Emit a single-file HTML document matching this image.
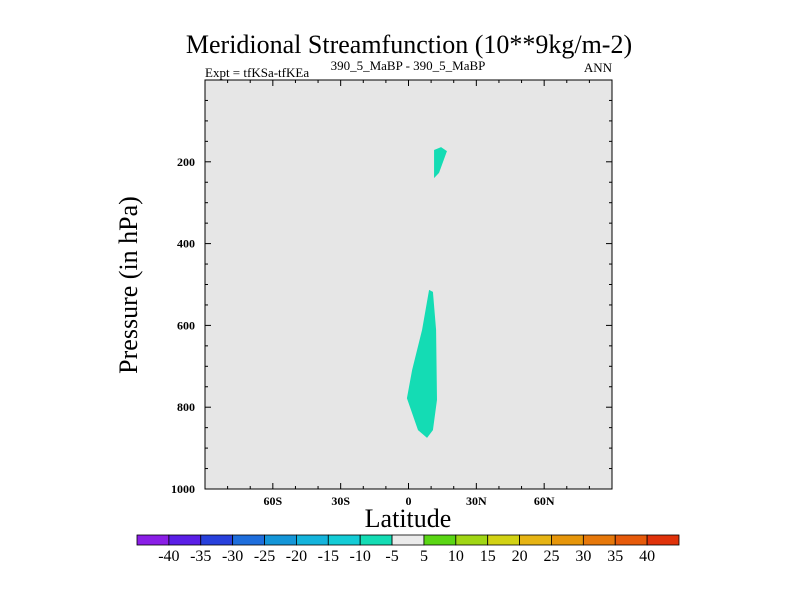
<!DOCTYPE html>
<html><head><meta charset="utf-8"><style>
body{margin:0;background:#fff}
svg text{font-family:"Liberation Serif",serif;fill:#000}
</style></head><body>
<svg width="800" height="600">
<text x="409" y="53" font-size="26" text-anchor="middle">Meridional Streamfunction (10**9kg/m-2)</text>
<text x="205" y="77" font-size="13">Expt = tfKSa-tfKEa</text>
<text x="408" y="70" font-size="13" text-anchor="middle">390_5_MaBP - 390_5_MaBP</text>
<text x="612" y="72" font-size="13" text-anchor="end">ANN</text>
<rect x="205" y="80" width="407" height="409" fill="#e6e6e6"/>
<g id="shapes"></g>
<rect x="205" y="80" width="407" height="409" fill="none" stroke="#000" stroke-width="1"/>
<g id="ticks"></g>
<text transform="translate(137,285) rotate(-90)" font-size="26" text-anchor="middle">Pressure (in hPa)</text>
<text x="408" y="527" font-size="26" text-anchor="middle">Latitude</text>
<g id="cbar"></g>
</svg>
<script>
const latTicks=[-60,-30,0,30,60];
const latLabels=["60S","30S","0","30N","60N"];
const presTicks=[200,400,600,800,1000];
const upperLat=[11.3,14.4,17.0,13.5,11.3];
const upperPres=[171,164,174,227,240];
const lowerLat=[9.1,10.8,12.2,12.6,10.8,8.2,4.2,-0.7,1.6,6.0];
const lowerPres=[513,518,611,782,856,875,856,778,709,611];
const cbarLabels=["-40","-35","-30","-25","-20","-15","-10","-5","5","10","15","20","25","30","35","40"];
const cbarColors=["#8a1ee6","#5a1ee6","#2840dc","#1e6edc","#1496d8","#14b4dc","#14ccd6","#14dcb4","#ebebeb","#5ad614","#a0d614","#d2d214","#e6b414","#e6960a","#e6780a","#e65a0a","#e0320a"];
const NS="http://www.w3.org/2000/svg";
const X=lat=>205+(lat+90)*407/180;
const Y=p=>80+p*409/1000;
function mk(t,a,parent){const e=document.createElementNS(NS,t);for(const k in a)e.setAttribute(k,a[k]);parent.appendChild(e);return e;}
const sh=document.getElementById('shapes');
let p1=mk('polygon',{points:upperLat.map((l,i)=>X(l)+','+Y(upperPres[i])).join(' '),fill:'#14dcb4'},sh);


let p2=mk('polygon',{points:lowerLat.map((l,i)=>X(l)+','+Y(lowerPres[i])).join(' '),fill:'#14dcb4'},sh);


const tk=document.getElementById('ticks');
for(let l=-80;l<=80;l+=10){const maj=l%30===0;const len=maj?6:3;
 mk('line',{x1:X(l),x2:X(l),y1:489,y2:489-len,stroke:'#000'},tk);
 mk('line',{x1:X(l),x2:X(l),y1:80,y2:80+len,stroke:'#000'},tk);}
latTicks.forEach((l,i)=>{const t=mk('text',{x:X(l),y:505,'font-size':12,'font-weight':'bold','text-anchor':'middle'},tk);t.textContent=latLabels[i];
 
 });
for(let p=50;p<1000;p+=50){const maj=p%200===0;const len=maj?6:3;
 mk('line',{x1:205,x2:205+len,y1:Y(p),y2:Y(p),stroke:'#000'},tk);
 mk('line',{x1:612,x2:612-len,y1:Y(p),y2:Y(p),stroke:'#000'},tk);}
presTicks.forEach(p=>{const t=mk('text',{x:195,y:Y(p)+4,'font-size':12,'font-weight':'bold','text-anchor':'end'},tk);t.textContent=p;
 
 });
const cb=document.getElementById('cbar');const w=542/cbarColors.length;
cbarColors.forEach((c,i)=>{const r=mk('rect',{x:137+i*w,y:535,width:w,height:10,fill:c,stroke:'#000','stroke-width':0.8},cb);
 
 });
cbarLabels.forEach((s,i)=>{const t=mk('text',{x:137+(i+1)*w,y:561,'font-size':16,'text-anchor':'middle'},cb);t.textContent=s;
 
 });
</script>
</body></html>
